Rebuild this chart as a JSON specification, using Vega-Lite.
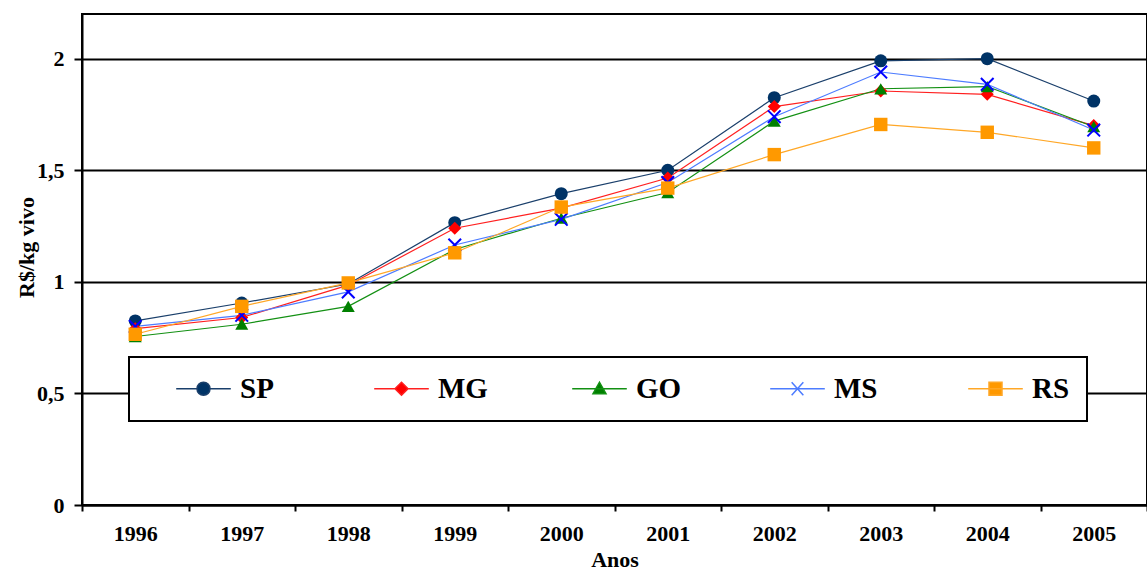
{
  "$schema": "https://vega.github.io/schema/vega-lite/v6.json",
  "width": 1065,
  "height": 491,
  "autosize": {"type": "none"},
  "padding": {"left": 82, "top": 14, "right": 0, "bottom": 65},
  "background": "white",
  "config": {
    "view": {"stroke": "black", "strokeWidth": 2},
    "font": "Liberation Serif"
  },
  "data": {
    "values": [
      {"year": "1996", "series": "SP", "value": 0.825},
      {"year": "1997", "series": "SP", "value": 0.905},
      {"year": "1998", "series": "SP", "value": 0.99},
      {"year": "1999", "series": "SP", "value": 1.265},
      {"year": "2000", "series": "SP", "value": 1.395},
      {"year": "2001", "series": "SP", "value": 1.5},
      {"year": "2002", "series": "SP", "value": 1.825},
      {"year": "2003", "series": "SP", "value": 1.99},
      {"year": "2004", "series": "SP", "value": 2.0},
      {"year": "2005", "series": "SP", "value": 1.81},
      {"year": "1996", "series": "MG", "value": 0.79},
      {"year": "1997", "series": "MG", "value": 0.84},
      {"year": "1998", "series": "MG", "value": 0.985},
      {"year": "1999", "series": "MG", "value": 1.24},
      {"year": "2000", "series": "MG", "value": 1.33},
      {"year": "2001", "series": "MG", "value": 1.465},
      {"year": "2002", "series": "MG", "value": 1.785},
      {"year": "2003", "series": "MG", "value": 1.855},
      {"year": "2004", "series": "MG", "value": 1.84},
      {"year": "2005", "series": "MG", "value": 1.7},
      {"year": "1996", "series": "GO", "value": 0.755},
      {"year": "1997", "series": "GO", "value": 0.81},
      {"year": "1998", "series": "GO", "value": 0.89},
      {"year": "1999", "series": "GO", "value": 1.145},
      {"year": "2000", "series": "GO", "value": 1.285},
      {"year": "2001", "series": "GO", "value": 1.4},
      {"year": "2002", "series": "GO", "value": 1.72},
      {"year": "2003", "series": "GO", "value": 1.865},
      {"year": "2004", "series": "GO", "value": 1.875},
      {"year": "2005", "series": "GO", "value": 1.695},
      {"year": "1996", "series": "MS", "value": 0.8},
      {"year": "1997", "series": "MS", "value": 0.85},
      {"year": "1998", "series": "MS", "value": 0.955},
      {"year": "1999", "series": "MS", "value": 1.165},
      {"year": "2000", "series": "MS", "value": 1.28},
      {"year": "2001", "series": "MS", "value": 1.445},
      {"year": "2002", "series": "MS", "value": 1.74},
      {"year": "2003", "series": "MS", "value": 1.94},
      {"year": "2004", "series": "MS", "value": 1.885},
      {"year": "2005", "series": "MS", "value": 1.68},
      {"year": "1996", "series": "RS", "value": 0.765},
      {"year": "1997", "series": "RS", "value": 0.89},
      {"year": "1998", "series": "RS", "value": 0.995},
      {"year": "1999", "series": "RS", "value": 1.13},
      {"year": "2000", "series": "RS", "value": 1.335},
      {"year": "2001", "series": "RS", "value": 1.42},
      {"year": "2002", "series": "RS", "value": 1.57},
      {"year": "2003", "series": "RS", "value": 1.705},
      {"year": "2004", "series": "RS", "value": 1.67},
      {"year": "2005", "series": "RS", "value": 1.6}
    ]
  },
  "encoding": {
    "x": {
      "field": "year",
      "type": "ordinal",
      "scale": {"type": "band", "paddingInner": 0, "paddingOuter": 0},
      "axis": {
        "title": "Anos",
        "titleFont": "Liberation Serif",
        "titleFontSize": 22,
        "titleFontWeight": "bold",
        "titleColor": "black",
        "titlePadding": 5,
        "labelFont": "Liberation Serif",
        "labelFontSize": 22,
        "labelFontWeight": "bold",
        "labelColor": "black",
        "labelAngle": 0,
        "labelPadding": 12,
        "tickBand": "extent",
        "tickSize": 6,
        "tickColor": "black",
        "tickWidth": 2,
        "domainColor": "black",
        "domainWidth": 2,
        "grid": false
      }
    },
    "y": {
      "field": "value",
      "type": "quantitative",
      "scale": {"domain": [0, 2.2], "nice": false, "zero": true},
      "axis": {
        "title": "R$/kg vivo",
        "titleFont": "Liberation Serif",
        "titleFontSize": 22,
        "titleFontWeight": "bold",
        "titleColor": "black",
        "titleAngle": -90,
        "titleX": -44,
        "titleY": 233,
        "titleAlign": "center",
        "titleBaseline": "bottom",
        "values": [0, 0.5, 1, 1.5, 2],
        "labelExpr": "replace(format(datum.value, '~g'), '.', ',')",
        "labelFont": "Liberation Serif",
        "labelFontSize": 22,
        "labelFontWeight": "bold",
        "labelColor": "black",
        "labelPadding": 10,
        "tickSize": 8,
        "tickColor": "black",
        "tickWidth": 2,
        "domainColor": "black",
        "domainWidth": 2,
        "grid": true,
        "gridColor": "black",
        "gridWidth": 2
      }
    }
  },
  "layer": [
    {
      "mark": {"type": "line", "strokeWidth": 1.2},
      "encoding": {
        "stroke": {
          "field": "series",
          "type": "nominal",
          "scale": {
            "domain": ["SP", "MG", "GO", "MS", "RS"],
            "range": ["#1A3F6B", "#FF2020", "#139013", "#4D7CFF", "#FFA726"]
          },
          "legend": {
            "title": null,
            "orient": "none",
            "legendX": 47,
            "legendY": 343,
            "direction": "horizontal",
            "columns": 5,
            "gridAlign": "all",
            "columnPadding": 54,
            "padding": 17,
            "fillColor": "white",
            "strokeColor": "black",
            "labelFont": "Liberation Serif",
            "labelFontSize": 29,
            "labelFontWeight": "bold",
            "labelColor": "black",
            "symbolSize": 169,
            "symbolStrokeWidth": 1.5,
            "symbolOffset": 43,
            "labelOffset": 22,
            "encode": {
              "legend": {"update": {"strokeWidth": {"value": 2}}},
              "symbols": {
                "update": {
                  "shape": {"signal": "datum.value === 'SP' ? 'M-4.2,0H-1M1,0H4.2M-1,0A1,1 0 1,1 1,0A1,1 0 1,1 -1,0Z' : datum.value === 'MG' ? 'M-4.2,0H-1M1,0H4.2M0,-1L1,0L0,1L-1,0Z' : datum.value === 'GO' ? 'M-4.2,0H4.2M0,-1L1,0.75L-1,0.75Z' : datum.value === 'MS' ? 'M-4.2,0H4.2M-0.9,-1L0.9,1M-0.9,1L0.9,-1' : 'M-4.2,0H4.2M-1,-1H1V1H-1Z'"},
                  "fill": {"signal": "datum.value === 'SP' ? '#003366' : datum.value === 'MG' ? '#FF0000' : datum.value === 'GO' ? '#008000' : datum.value === 'RS' ? '#FF9900' : 'transparent'"},
                  "strokeWidth": {"value": 1.5},
                  "opacity": {"value": 1}
                }
              }
            }
          }
        }
      }
    },
    {
      "transform": [{"filter": {"field": "series", "oneOf": ["SP", "MG", "GO"]}}],
      "mark": {"type": "point", "filled": true, "opacity": 1, "size": 169},
      "encoding": {
        "color": {
          "field": "series",
          "type": "nominal",
          "scale": {
            "domain": ["RS", "MS", "GO", "MG", "SP"],
            "range": ["#FF9900", "#0000FF", "#008000", "#FF0000", "#003366"]
          },
          "legend": null
        },
        "shape": {
          "field": "series",
          "type": "nominal",
          "scale": {
            "domain": ["RS", "MS", "GO", "MG", "SP"],
            "range": ["square", "M-1,-1L1,1M-1,1L1,-1", "triangle-up", "diamond", "circle"]
          },
          "legend": null
        }
      }
    },
    {
      "transform": [{"filter": "datum.series === 'MS'"}],
      "mark": {"type": "point", "filled": false, "shape": "M-1,-1L1,1M-1,1L1,-1", "color": "#0000FF", "strokeWidth": 2, "size": 160, "opacity": 1}
    },
    {
      "transform": [{"filter": "datum.series === 'RS'"}],
      "mark": {"type": "point", "filled": true, "opacity": 1, "size": 180},
      "encoding": {
        "color": {"field": "series", "type": "nominal", "legend": null},
        "shape": {"field": "series", "type": "nominal", "legend": null}
      }
    }
  ]
}
